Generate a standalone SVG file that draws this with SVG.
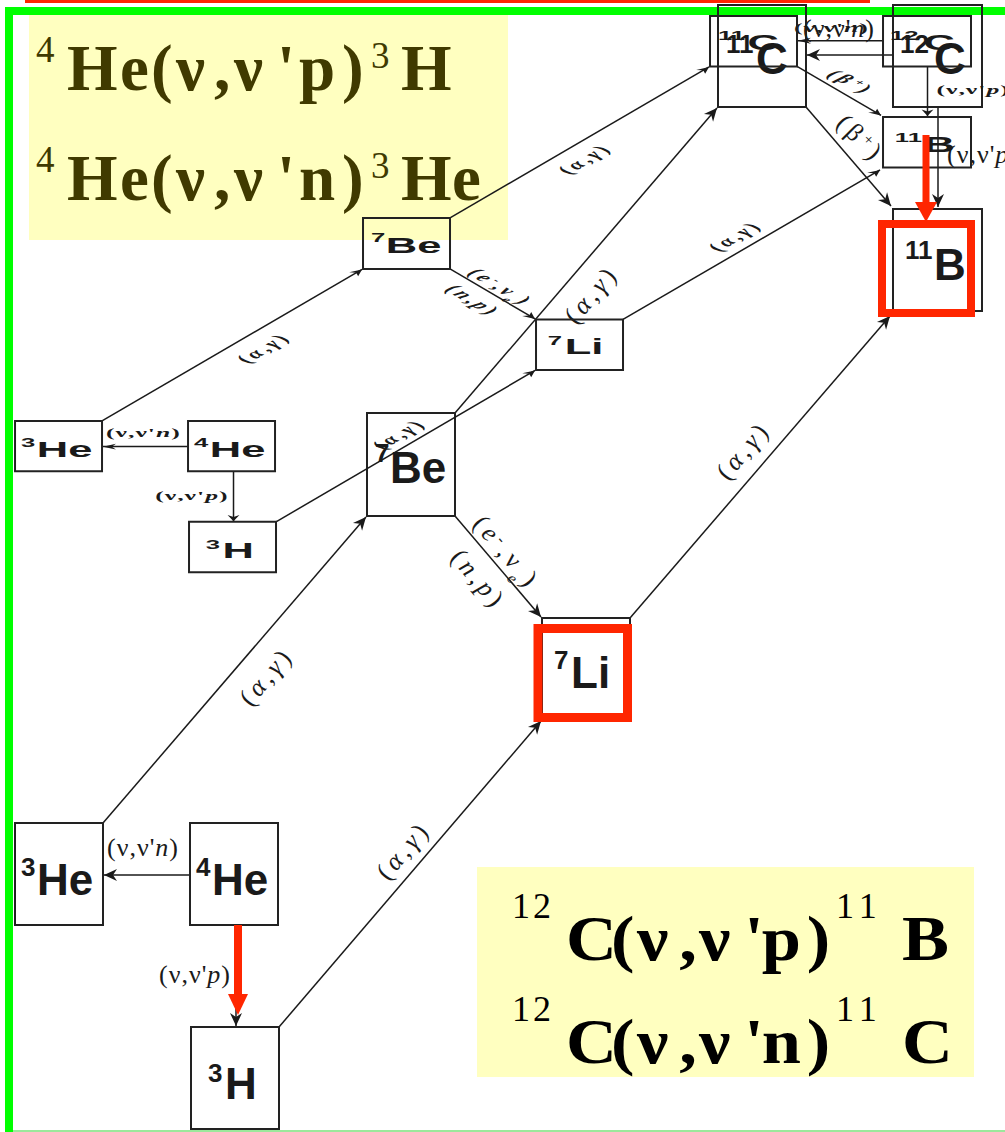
<svg xmlns="http://www.w3.org/2000/svg" xmlns:xlink="http://www.w3.org/1999/xlink" width="1005" height="1132" viewBox="0 0 1005 1132">
<defs>
<style>
.box{fill:none;stroke:#222;stroke-width:2;vector-effect:non-scaling-stroke}
.edge{fill:none;stroke:#1a1a1a;stroke-width:1.5;vector-effect:non-scaling-stroke;marker-end:url(#ah)}
.nl{font-family:"Liberation Sans",Arial,sans-serif;font-weight:bold;font-size:44px;fill:#1a1a1a}
.sup{font-size:26px}
.el{font-family:"Liberation Serif","Times New Roman",serif;font-size:26px;fill:#1a1a1a}
.rl{text-anchor:middle;letter-spacing:4px}
.it{font-style:italic}
.eq{font-family:"Liberation Serif","Times New Roman",serif;font-weight:bold;fill:#403a00}
.eqs{font-family:"Liberation Serif","Times New Roman",serif;font-weight:normal;fill:#403a00}
.blk{fill:#000}
.red{stroke:#ff2600;fill:none}
</style>
<marker id="ah" viewBox="-14 -7 15 14" refX="0" refY="0" markerWidth="15" markerHeight="14" markerUnits="userSpaceOnUse" orient="auto">
<path d="M0,0 L-13,-6 L-9,0 L-13,6 Z" fill="#1a1a1a"/>
</marker>
</defs>
<rect width="1005" height="1132" fill="#fff"/>

<!-- frame -->
<g id="frame">
<line x1="25" y1="1.5" x2="870" y2="1.5" stroke="#ff2600" stroke-width="3"/>
<line x1="5" y1="11" x2="1005" y2="11" stroke="#00ff00" stroke-width="8"/>
<line x1="9" y1="7" x2="9" y2="1132" stroke="#00ff00" stroke-width="8"/>
<line x1="13" y1="1131" x2="1005" y2="1131" stroke="#9be89b" stroke-width="2"/>
</g>

<!-- equation boxes -->
<g id="eq-he">
<rect x="29" y="15" width="479" height="225" fill="#ffffc0"/>
<text class="eqs" font-size="37" x="36" y="62">4</text>
<text class="eq" font-size="65" x="67 120 151 176 214 234 277 299 342" y="90">He(ν,ν'p)</text>
<text class="eqs" font-size="37" x="371" y="68">3</text>
<text class="eq" font-size="65" x="401" y="90">H</text>
<text class="eqs" font-size="37" x="36" y="172">4</text>
<text class="eq" font-size="65" x="67 120 151 176 214 234 277 299 342" y="200">He(ν,ν'n)</text>
<text class="eqs" font-size="37" x="371" y="178">3</text>
<text class="eq" font-size="65" x="401 452" y="200">He</text>
</g>
<g id="eq-c">
<rect x="477" y="867" width="497" height="210" fill="#ffffc0"/>
<text class="eqs blk" font-size="36" letter-spacing="3" x="512" y="918">12</text>
<text class="eq blk" font-size="64" transform="scale(1.1,1)" x="514.5 555.5 579 617.5 635.5 676.5 692.5 733.5" y="960">C(ν,ν'p)</text>
<text class="eqs blk" font-size="36" letter-spacing="6" x="836" y="918">11</text>
<text class="eq blk" font-size="64" transform="scale(1.1,1)" x="820" y="960">B</text>
<text class="eqs blk" font-size="36" letter-spacing="3" x="512" y="1021">12</text>
<text class="eq blk" font-size="64" transform="scale(1.1,1)" x="514.5 555.5 579 617.5 635.5 676.5 692.5 733.5" y="1063">C(ν,ν'n)</text>
<text class="eqs blk" font-size="36" letter-spacing="6" x="836" y="1021">11</text>
<text class="eq blk" font-size="64" transform="scale(1.1,1)" x="820" y="1063">C</text>
</g>

<!-- main (large) network -->
<g id="large">
<g id="diagram">
<g id="connectors">
<path id="e_4He_3He" class="edge" d="M190,875 L104,875"/>
<path id="e_4He_3H" class="edge" d="M236,925 L236,1026"/>
<path id="e_3He_7Be" class="edge" d="M103,823 L366,517"/>
<path id="e_3H_7Li" class="edge" d="M279,1027 L541,721"/>
<path id="e_7Be_7Li" class="edge" d="M455,516 L541,617"/>
<path id="e_7Be_11C" class="edge" d="M455,413 L717,108"/>
<path id="e_7Li_11B" class="edge" d="M630,618 L890,316"/>
<path id="e_11C_11B" class="edge" d="M806,107 L891,206"/>
<path id="e_12C_11C" class="edge" d="M893,55 L807,55"/>
<path id="e_12C_11B" class="edge" d="M938,107 L938,207"/>
<text class="el" x="107" y="856" letter-spacing="1">(ν,ν'<tspan class="it">n</tspan>)</text>
<text class="el" x="231" y="983" text-anchor="end" letter-spacing="1">(ν,ν'<tspan class="it">p</tspan>)</text>
<text class="el rl" transform="translate(266,676) rotate(-49.4)" y="9">(<tspan class="it">α</tspan>,<tspan class="it">γ</tspan>)</text>
<text class="el rl" transform="translate(403,850) rotate(-49.4)" y="9">(<tspan class="it">α</tspan>,<tspan class="it">γ</tspan>)</text>
<text class="el rl" transform="translate(743,450) rotate(-49.4)" y="9">(<tspan class="it">α</tspan>,<tspan class="it">γ</tspan>)</text>
<text class="el rl" transform="translate(591,294) rotate(-49.4)" y="9">(<tspan class="it">α</tspan>,<tspan class="it">γ</tspan>)</text>
<text class="el rl" transform="translate(507,552) rotate(49.5)" y="9">(<tspan class="it">e</tspan><tspan baseline-shift="super" font-size="16">-</tspan>,ν<tspan baseline-shift="sub" font-size="16" class="it">e</tspan>)</text>
<text class="el rl" transform="translate(479,579) rotate(49.5)" y="9" letter-spacing="6">(<tspan class="it">n</tspan>,<tspan class="it">p</tspan>)</text>
<text class="el" x="803" y="37" letter-spacing="1">(ν,ν'<tspan class="it">n</tspan>)</text>
<text class="el" x="947" y="163" letter-spacing="1">(ν,ν'<tspan class="it">p</tspan>)</text>
<text class="el rl" transform="translate(861,138) rotate(45)" y="9">(β<tspan baseline-shift="super" font-size="16">+</tspan>)</text>
</g>
<g id="n_3He"><rect class="box" x="15" y="823" width="88" height="102"/><text class="nl"><tspan class="sup" x="21" y="876">3</tspan><tspan x="37" y="895">He</tspan></text></g>
<g id="n_4He"><rect class="box" x="190" y="823" width="88" height="102"/><text class="nl"><tspan class="sup" x="196" y="876">4</tspan><tspan x="212" y="895">He</tspan></text></g>
<g id="n_3H"><rect class="box" x="191" y="1027" width="88" height="102"/><text class="nl"><tspan class="sup" x="208" y="1082">3</tspan><tspan x="225" y="1099">H</tspan></text></g>
<g id="n_7Be"><rect class="box" x="367" y="413" width="88" height="103"/><text class="nl"><tspan class="sup" x="375" y="462">7</tspan><tspan x="390" y="483">Be</tspan></text></g>
<g id="n_7Li"><rect class="box" x="542" y="618" width="88" height="102"/><text class="nl"><tspan class="sup" x="554" y="669">7</tspan><tspan x="571" y="688">Li</tspan></text></g>
<g id="n_11B"><rect class="box" x="893" y="209" width="89" height="102"/><text class="nl"><tspan class="sup" x="905" y="259">11</tspan><tspan x="934" y="280">B</tspan></text></g>
<g id="n_11C"><rect class="box" x="718" y="5" width="88" height="102"/><text class="nl"><tspan class="sup" x="726" y="53">11</tspan><tspan x="756" y="74">C</tspan></text></g>
<g id="n_12C"><rect class="box" x="893" y="5" width="89" height="102"/><text class="nl"><tspan class="sup" x="900" y="53">12</tspan><tspan x="934" y="74">C</tspan></text></g>
</g>
</g>

<!-- squashed overlay copy of the same network -->
<use id="small" xlink:href="#diagram" href="#diagram" transform="matrix(0.9886,0,0,0.495,0.2,13.5)" font-weight="bold"/>

<!-- red highlights -->
<g id="highlights">
<rect class="red" x="538" y="628.5" width="89.5" height="89" stroke-width="9"/>
<rect class="red" x="882" y="224" width="89" height="89" stroke-width="8"/>
<line class="red" x1="238" y1="925" x2="238" y2="996" stroke-width="8"/>
<polygon points="228,994 248,994 238,1015" fill="#ff2600"/>
<line class="red" x1="926" y1="135" x2="926" y2="204" stroke-width="7"/>
<polygon points="915,202 937,202 926,222" fill="#ff2600"/>
</g>
</svg>
